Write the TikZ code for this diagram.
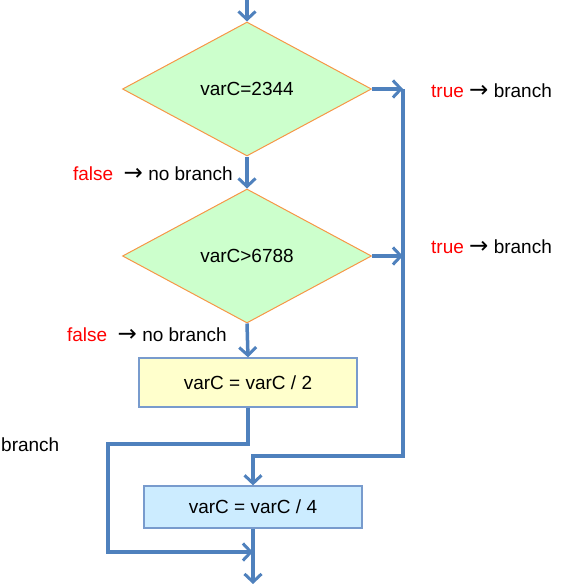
\documentclass[tikz,border=0pt]{standalone}
\usepackage{fontspec}
\setmainfont{Liberation Sans}
\newfontfamily\arrowfont{DejaVu Sans}
\usetikzlibrary{arrows.meta}
\usetikzlibrary{shapes.geometric}
\definecolor{flowblue}{RGB}{79,129,189}
\definecolor{decfill}{RGB}{204,255,204}
\definecolor{decedge}{RGB}{247,150,70}
\definecolor{halffill}{RGB}{255,255,204}
\definecolor{quarterfill}{RGB}{204,236,255}
\definecolor{boxedge}{RGB}{120,155,205}
\definecolor{truered}{RGB}{255,0,0}
\newcommand{\toarrow}{{\arrowfont\fontsize{23}{22}\selectfont →}}
\tikzset{
  decision/.style={diamond, draw=decedge, fill=decfill, line width=1pt,
    minimum width=249pt, minimum height=134pt, inner sep=0pt},
  process/.style={rectangle, draw=boxedge, line width=1.3pt,
    minimum width=218pt, inner sep=0pt},
  flow/.style={draw=flowblue, line width=3.5pt, line join=miter,
    -{Straight Barb[length=8pt,width=17pt,line width=3pt]}},
  note/.style={inner sep=0pt}
}
\begin{document}
\begin{tikzpicture}[x=1pt,y=-1pt,font=\fontsize{19}{22}\selectfont]
    \useasboundingbox (0,0) rectangle (570,584);
    \coordinate (start) at (247,0);
    \node[decision] (test1) at (247,89) {varC=2344};
    \node[decision] (test2) at (247,256) {varC>6788};
    \node[process, fill=halffill, minimum height=49pt] (half) at (248,382.5) {varC = varC / 2};
    \node[process, fill=quarterfill, minimum height=42pt] (quarter) at (253,507) {varC = varC / 4};
    \coordinate (join1) at (403,89);
    \coordinate (join2) at (403,256);
    \coordinate (rightturn) at (403,456);
    \coordinate (leftturn) at (108,444);
    \coordinate (merge) at (253,552);
    \coordinate (finish) at (253,584);
    \draw[flow] (start) -- (test1.north);
    \draw[flow] (test1.east) -- (join1);
    \draw[flow] (test2.east) -- (join2);
    \draw[flow] (test1.south) -- (test2.north);
    \draw[flow] (test2.south) -- (half.north);
    \draw[flow] (join1) -- (rightturn) -| (quarter.north);
    \draw[flow] (half.south) |- (leftturn) |- (merge);
    \draw[flow] (quarter.south) -- (finish);
    \node[note, anchor=west] (true1) at (431,91) {\textcolor{truered}{true} \toarrow\ branch};
    \node[note, anchor=west] (true2) at (431,247) {\textcolor{truered}{true} \toarrow\ branch};
    \node[note, anchor=east] (false1) at (233,174) {\textcolor{truered}{false}\ \ \toarrow\ no branch};
    \node[note, anchor=east] (false2) at (227,335) {\textcolor{truered}{false}\ \ \toarrow\ no branch};
    \node[note, anchor=west] (branch) at (1,445) {branch};
  \end{tikzpicture}
\end{document}
